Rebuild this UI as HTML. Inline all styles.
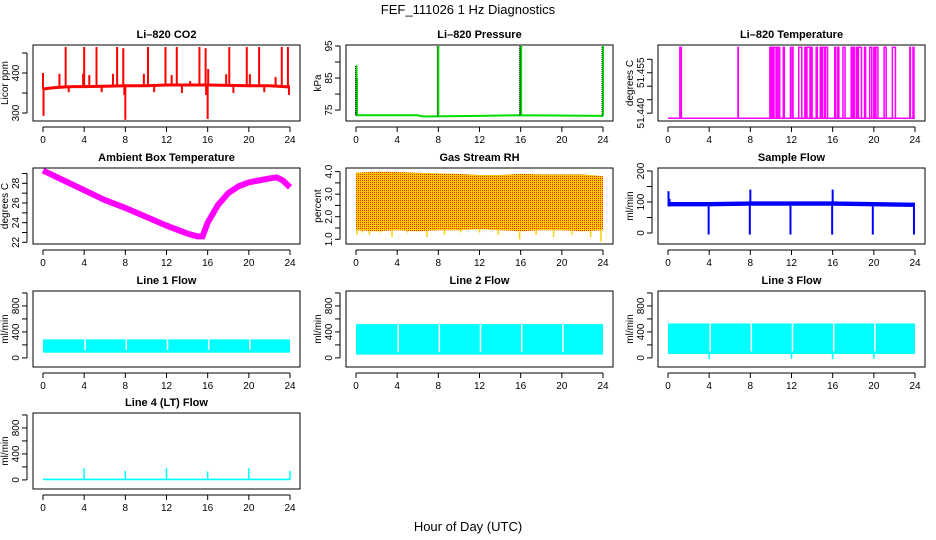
<!DOCTYPE html>
<html><head><meta charset="utf-8"><style>
html,body{margin:0;padding:0;background:#fff;}
svg{display:block;font-family:"Liberation Sans",sans-serif;}
</style></head><body>
<svg id="chart" width="936" height="540" viewBox="0 0 936 540" xmlns="http://www.w3.org/2000/svg">
<defs>
<pattern id="rhpat" width="2" height="2" patternUnits="userSpaceOnUse">
<rect width="2" height="2" fill="#ffc800"/><rect width="1" height="1" fill="#e83000"/>
</pattern>
</defs>
<text x="468" y="14" text-anchor="middle" font-size="13">FEF_111026  1 Hz Diagnostics</text>
<text x="468" y="531" text-anchor="middle" font-size="13">Hour of Day (UTC)</text>
</svg>
<script>
// ---- data arrays ----
const hourTicks = [0,4,8,12,16,20,24];
// CO2
const co2BaseHours = [0,1,2,3,4,6,8,10,12,14,16,18,20,22,24];
const co2Base = [360,363,365,366,366,367,368,368,370,370,370,369,368,368,365];
const co2SpikeHours = [2.2,4.0,5.2,7.2,7.8,10.2,11.9,13.0,15.2,15.8,18.1,19.8,21.0,23.2,23.8,0.0,1.6,3.9,4.5,6.8,9.8,12.5,14.3,16.05,17.8,20.1,22.6,0.05,8.0,16.0,7.9,15.85,23.9,2.5,10.8,13.5,18.5,21.5,5.7];
const co2SpikeVals = [465,465,465,465,462,465,465,465,465,462,465,465,465,465,465,400,398,398,395,398,398,395,380,410,397,397,390,293,283,285,345,345,345,352,352,350,350,352,352];
// Pressure
const presBaseHours = [0,6,6.5,12,16,24];
const presBase = [73.4,73.4,73.0,73.2,73.4,73.2];
const presSpikeHours = [0.05,0.1,8.0,16.0,16.05,24.0];
const presSpikeVals = [89,85,95,95,95,95];
// Li-820 temperature
const tempLow = 51.4381, tempHigh = 51.4644;
const tempHighStart = [1.15,6.8,9.9,10.1,10.3,10.6,10.8,11.2,11.9,12.1,12.7,13.3,13.5,13.9,14.4,14.8,15.0,15.3,16.2,16.5,17.0,17.8,18.0,18.3,18.5,19.1,19.6,20.0,20.2,21.0,21.8,23.5,23.8];
const tempHighEnd   = [1.3,6.83,10.0,10.2,10.5,10.65,10.85,11.3,11.95,12.15,13.0,13.4,13.8,14.0,14.5,14.9,15.2,15.5,16.3,16.6,17.2,17.9,18.1,18.4,18.8,19.2,19.8,20.1,20.4,21.2,22.1,23.55,23.9];
// Ambient box temperature
const ambHours = [0,1,2,4,6,8,10,12,14,15,15.5,16,17,18,19,20,21,22,22.7,23.3,24];
const ambTemps = [29.3,28.8,28.3,27.3,26.3,25.5,24.6,23.7,22.9,22.6,22.6,24.0,25.8,27.0,27.7,28.1,28.3,28.5,28.6,28.3,27.6];
// Gas stream RH
const rhHours = [0,2,4,6,8,10,12,14,16,18,20,22,24];
const rhTop = [3.95,4.0,3.98,3.95,3.92,3.9,3.85,3.85,3.9,3.88,3.88,3.88,3.8];
const rhBottom = [1.4,1.35,1.4,1.35,1.4,1.4,1.45,1.4,1.35,1.4,1.4,1.35,1.4];
const rhDipHours = [0.1,0.6,1.3,2.4,3.5,5.0,6.9,8.6,10.2,12.0,13.8,15.9,17.5,19.2,21.0,22.8,23.8];
const rhDipVals = [1.2,1.3,1.2,1.3,1.1,1.3,1.1,1.2,1.3,1.3,1.2,1.0,1.2,1.1,1.2,1.1,0.9];
// Sample flow
const sfBandHours = [0,4,8,12,16,20,24];
const sfLow = [86,86,88,88,88,86,84];
const sfHigh = [100,100,102,102,102,100,98];
const sfSpikeHours = [0.05,0.15,3.95,7.95,8.0,11.9,15.95,16.0,19.9,23.9];
const sfSpikeVals = [135,110,-5,-5,140,-5,-5,140,-5,-5];
// Line flows
const lineLow = [80,50,60];
const lineHigh = [285,520,530];
const lineGapHours = [4,8,12,16,20];
const line3DipHours = [4.0,12.0,16.0,20.0];
const line3DipVals = [-20,-15,-20,-15];
const line4SpikeHours = [4.0,8.0,12.0,16.0,20.0,24.0];
const line4SpikeVals = [180,140,180,130,180,140];

// ---- layout ----
const svg = document.getElementById('chart');
const NS = 'http://www.w3.org/2000/svg';
const colLeft = [33,346,658];
const rowTop = [45,168,291,413];
const W = 267, H = 76;
function el(tag, attrs, parent){
  const e = document.createElementNS(NS, tag);
  for (const k in attrs) e.setAttribute(k, attrs[k]);
  (parent||svg).appendChild(e);
  return e;
}
function panel(name, c, r, title, ylab, ymin, ymax, ticks, labels){
  const L = colLeft[c], T = rowTop[r];
  const g = el('g', {});
  
  
  const x = h => L + 10 + h * (247 / 24);
  const y = v => T + H - (v - ymin) / (ymax - ymin) * H;
  const plot = el('g', {}, g);
  
  
  const box = el('rect', {x:L, y:T, width:W, height:H, fill:'none', stroke:'#000', 'stroke-width':1}, g);
  
  
  const t = el('text', {x:L+W/2, y:T-7, 'text-anchor':'middle', 'font-size':11, 'font-weight':'bold'}, g);
  t.textContent = title;
  
  
  const xa = el('g', {}, g);
  
  
  el('line', {x1:x(0), x2:x(24), y1:T+H+6, y2:T+H+6, stroke:'#000'}, xa);
  hourTicks.forEach(h => {
    el('line', {x1:x(h), x2:x(h), y1:T+H+6, y2:T+H+11, stroke:'#000'}, xa);
    const tl = el('text', {x:x(h), y:T+H+22, 'text-anchor':'middle', 'font-size':10}, xa);
    tl.textContent = h;
    
    
  });
  const ya = el('g', {}, g);
  
  
  el('line', {x1:L-6, x2:L-6, y1:y(ticks[0]), y2:y(ticks[ticks.length-1]), stroke:'#000'}, ya);
  ticks.forEach((v,i) => {
    el('line', {x1:L-11, x2:L-6, y1:y(v), y2:y(v), stroke:'#000'}, ya);
    if (labels[i]) {
      const tl = el('text', {x:L-14, y:y(v), 'text-anchor':'middle', 'font-size':10, transform:`rotate(-90 ${L-14} ${y(v)})`}, ya);
      tl.textContent = labels[i];
      
      
    }
  });
  const yl = el('text', {x:L-25, y:T+H/2, 'text-anchor':'middle', 'font-size':10, transform:`rotate(-90 ${L-25} ${T+H/2})`}, g);
  yl.textContent = ylab;
  
  
  return {x, y, plot, L, T};
}
function interp(hs, vs, h){
  for (let i=0;i<hs.length-1;i++) if (h<=hs[i+1]) { const f=(h-hs[i])/(hs[i+1]-hs[i]); return vs[i]+f*(vs[i+1]-vs[i]); }
  return vs[vs.length-1];
}
function pts(p, hs, vs){ return hs.map((h,i)=>p.x(h)+','+p.y(vs[i])).join(' '); }

// CO2
{
  const p = panel('co2', 0, 0, 'Li\u2013820 CO2', 'Licor ppm', 280, 470, [300,350,400,450], ['300','','400','']);
  el('polyline', {points:pts(p, co2BaseHours, co2Base), fill:'none', stroke:'#ff0000', 'stroke-width':3}, p.plot);
  co2SpikeHours.forEach((h,i) => {
    const s = el('line', {x1:p.x(h), x2:p.x(h), y1:p.y(interp(co2BaseHours, co2Base, h)), y2:p.y(co2SpikeVals[i]), stroke:'#ff0000', 'stroke-width':2}, p.plot);
    
    
  });
}
// Pressure
{
  const p = panel('pressure', 1, 0, 'Li\u2013820 Pressure', 'kPa', 71.6, 95.3, [75,80,85,90,95], ['75','','85','','95']);
  el('polyline', {points:pts(p, presBaseHours, presBase), fill:'none', stroke:'#00dd00', 'stroke-width':2}, p.plot);
  presSpikeHours.forEach((h,i) => {
    const b = p.y(interp(presBaseHours, presBase, h));
    const s = el('line', {x1:p.x(h), x2:p.x(h), y1:b, y2:p.y(presSpikeVals[i]), stroke:'#00dd00', 'stroke-width':2}, p.plot);
    
    
    el('line', {x1:p.x(h)-1, x2:p.x(h)-1, y1:b, y2:p.y(presSpikeVals[i]), stroke:'#000', 'stroke-width':1, 'stroke-dasharray':'1 1'}, p.plot);
  });
}
// Li-820 temperature
{
  const p = panel('li820-temperature', 2, 0, 'Li\u2013820 Temperature', 'degrees C', 51.4371, 51.4653, [51.440,51.445,51.450,51.455,51.460], ['51.440','','','51.455','']);
  el('line', {x1:p.x(0), x2:p.x(24), y1:p.y(tempLow), y2:p.y(tempLow), stroke:'#ff00ff', 'stroke-width':1.5}, p.plot);
  tempHighStart.forEach((s,i) => {
    const e = tempHighEnd[i];
    const pl = el('polyline', {points:`${p.x(s)},${p.y(tempLow)} ${p.x(s)},${p.y(tempHigh)} ${p.x(e)},${p.y(tempHigh)} ${p.x(e)},${p.y(tempLow)}`, fill:'none', stroke:'#ff00ff', 'stroke-width':1.5}, p.plot);
    
    
  });
}
// Ambient
{
  const p = panel('ambient-temperature', 0, 1, 'Ambient Box Temperature', 'degrees C', 21.83, 29.56, [22,23,24,25,26,27,28,29], ['22','','24','','26','','28','']);
  const l = el('polyline', {points:pts(p, ambHours, ambTemps), fill:'none', stroke:'#ff00ff', 'stroke-width':6}, p.plot);
  
  
}
// RH
{
  const p = panel('gas-stream-rh', 1, 1, 'Gas Stream RH', 'percent', 0.79, 4.16, [1.0,1.5,2.0,2.5,3.0,3.5,4.0], ['1.0','','2.0','','3.0','','4.0']);
  const poly = pts(p, rhHours, rhTop) + ' ' + rhHours.slice().reverse().map((h,i)=>p.x(h)+','+p.y(rhBottom[rhBottom.length-1-i])).join(' ');
  const a = el('polygon', {points:poly, fill:'url(#rhpat)'}, p.plot);
  
  
  rhDipHours.forEach((h,i) => {
    const s = el('line', {x1:p.x(h), x2:p.x(h), y1:p.y(interp(rhHours, rhBottom, h)), y2:p.y(rhDipVals[i]), stroke:'#ffd000', 'stroke-width':1.5}, p.plot);
    
    
  });
}
// Sample flow
{
  const p = panel('sample-flow', 2, 1, 'Sample Flow', 'ml/min', -35.5, 209.7, [0,50,100,150,200], ['0','','100','','200']);
  const poly = pts(p, sfBandHours, sfHigh) + ' ' + sfBandHours.slice().reverse().map((h,i)=>p.x(h)+','+p.y(sfLow[sfLow.length-1-i])).join(' ');
  el('polygon', {points:poly, fill:'#0000ff'}, p.plot);
  sfSpikeHours.forEach((h,i) => {
    const s = el('line', {x1:p.x(h), x2:p.x(h), y1:p.y(interp(sfBandHours, sfLow, h)), y2:p.y(sfSpikeVals[i]), stroke:'#0000ff', 'stroke-width':2}, p.plot);
    
    
  });
}
// Line flows
const flowTicks = [0,200,400,600,800,1000], flowLabels = ['0','','400','','800',''];
['Line 1 Flow','Line 2 Flow','Line 3 Flow'].forEach((title,k) => {
  const p = panel('line-' + (k+1) + '-flow', k, 2, title, 'ml/min', -140, 1030, flowTicks, flowLabels);
  const b = el('rect', {x:p.x(0), y:p.y(lineHigh[k]), width:p.x(24)-p.x(0), height:p.y(lineLow[k])-p.y(lineHigh[k]), fill:'#00ffff'}, p.plot);
  
  
  lineGapHours.forEach(h => {
    el('line', {x1:p.x(h)+1, x2:p.x(h)+1, y1:p.y(lineHigh[k]), y2:p.y(lineLow[k]+40), stroke:'#fff', 'stroke-width':1.5}, p.plot);
  });
  if (k===2) line3DipHours.forEach((h,i) => {
    const s = el('line', {x1:p.x(h), x2:p.x(h), y1:p.y(lineLow[k]), y2:p.y(line3DipVals[i]), stroke:'#00ffff', 'stroke-width':1.5}, p.plot);
    
    
  });
});
{
  const p = panel('line-4-flow', 0, 3, 'Line 4 (LT) Flow', 'ml/min', -140, 1030, flowTicks, flowLabels);
  el('rect', {x:p.x(0), y:p.y(20), width:p.x(24)-p.x(0), height:p.y(-5)-p.y(20), fill:'#00ffff'}, p.plot);
  line4SpikeHours.forEach((h,i) => {
    const s = el('line', {x1:p.x(h), x2:p.x(h), y1:p.y(0), y2:p.y(line4SpikeVals[i]), stroke:'#00ffff', 'stroke-width':1.5}, p.plot);
    
    
  });
}
</script>
</body></html>
